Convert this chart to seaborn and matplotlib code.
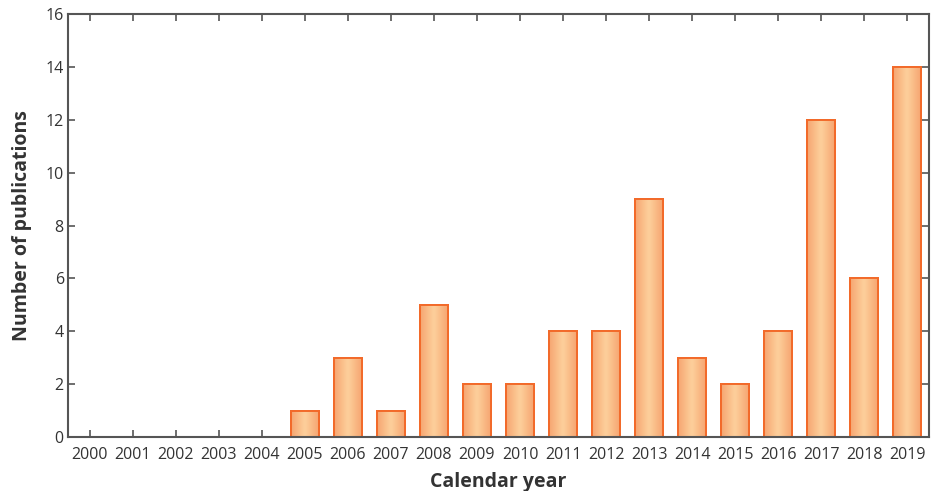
import numpy as np
import pandas as pd
import matplotlib
matplotlib.use("Agg")
import matplotlib.pyplot as plt
from matplotlib.colors import LinearSegmentedColormap
import seaborn as sns

years = [str(y) for y in range(2000, 2020)]
counts = [0, 0, 0, 0, 0, 1, 3, 1, 5, 2, 2, 4, 4, 9, 3, 2, 4, 12, 6, 14]
yticks = [0, 2, 4, 6, 8, 10, 12, 14, 16]

sns.set_theme(style="white")
plt.rcParams['font.family'] = ['Open Sans', 'DejaVu Sans']

df = pd.DataFrame({"year": years, "count": counts})

fig = plt.figure(figsize=(9.31, 4.91), dpi=100)
ax = fig.add_axes([68/931, 1-437/491, (929-68)/931, (437-14)/491])

sns.barplot(data=df, x="year", y="count", ax=ax, color="#fcc48e",
            width=0.65, edgecolor="#f26a2a", linewidth=1.4, saturation=1)

cmap = LinearSegmentedColormap.from_list("g", ["#f6a671", "#fdd09c", "#f6a671"])
grad = np.linspace(0, 1, 64).reshape(1, -1)
for p in ax.patches:
    h = p.get_height()
    if h <= 0:
        p.set_visible(False)
        continue
    x0 = p.get_x(); w = p.get_width()
    im = ax.imshow(grad, cmap=cmap, aspect="auto", extent=[x0, x0 + w, 0, h],
                   zorder=p.get_zorder() + 0.1, interpolation="bicubic")
    im.set_clip_path(p)
    edge = plt.Rectangle((x0, 0), w, h, fill=False, edgecolor="#f26a2a",
                         linewidth=1.4, zorder=p.get_zorder() + 0.2)
    ax.add_patch(edge)

ax.set_xlim(-0.5, 19.5)
ax.set_ylim(0, 16)
ax.set_yticks(yticks)
ax.set_yticklabels([str(v) for v in yticks])

for s in ax.spines.values():
    s.set_visible(True)
    s.set_color("#555555")
    s.set_linewidth(1.5)

ax.tick_params(axis="both", which="both", direction="in", length=5, width=1.2,
               color="#555555", top=True, right=True, labelsize=11.5,
               labelcolor="#333333", bottom=True, left=True)
ax.tick_params(axis="x", pad=7)
ax.tick_params(axis="y", pad=3)

ax.set_xlabel("Calendar year", fontsize=14, fontweight="bold", color="#333333", labelpad=7)
ax.set_ylabel("Number of publications", fontsize=14, fontweight="bold", color="#333333", labelpad=10)

fig.savefig("out.png", dpi=100)
